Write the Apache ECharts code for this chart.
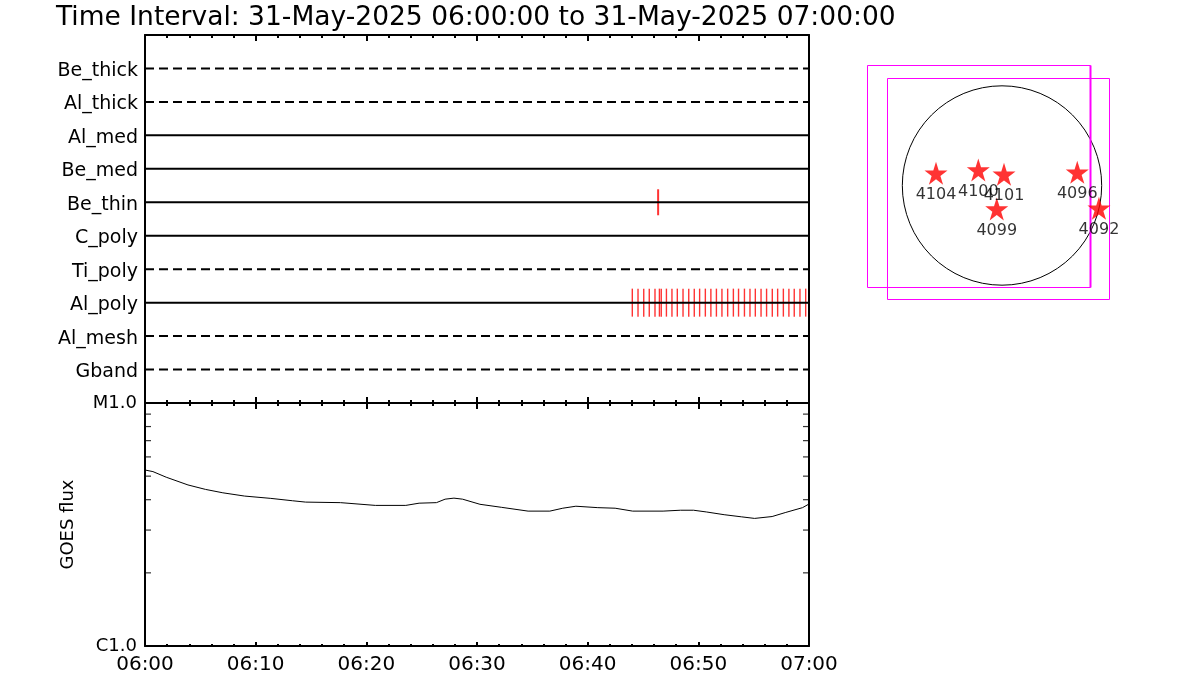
<!DOCTYPE html>
<html><head><meta charset="utf-8">
<script src="https://cdn.jsdelivr.net/npm/echarts@6/dist/echarts.min.js"></script>
<style>html,body{margin:0;padding:0;background:#fff}#c{width:1200px;height:700px}</style>
</head><body><div id="c"></div>
<script>
// ---------------- data ----------------
const titleText = 'Time Interval: 31-May-2025 06:00:00 to 31-May-2025 07:00:00';
const filters = ['Be_thick','Al_thick','Al_med','Be_med','Be_thin','C_poly','Ti_poly','Al_poly','Al_mesh','Gband'];
const timeTickLabels = ['06:00','06:10','06:20','06:30','06:40','06:50','07:00'];
const goesTickLabels = ['C1.0','M1.0'];
const goesMinorTickValues = [2e-6,3e-6,4e-6,5e-6,6e-6,7e-6,8e-6,9e-6];
const goesTimes = ['06:00:00','06:00:43','06:01:55','06:03:53','06:05:28','06:07:02','06:09:00','06:11:22','06:13:20','06:14:31',
  '06:17:40','06:20:49','06:23:34','06:24:46','06:26:20','06:27:07','06:27:55','06:28:42','06:30:16','06:32:14',
  '06:34:37','06:36:35','06:37:45','06:38:56','06:40:55','06:42:29','06:44:04','06:46:49','06:48:23','06:49:34',
  '06:50:45','06:52:20','06:53:55','06:55:05','06:56:40','06:57:51','06:59:25','07:00:00'];
const goesFlux = [5.30e-6,5.22e-6,4.95e-6,4.60e-6,4.41e-6,4.27e-6,4.14e-6,4.05e-6,3.96e-6,3.91e-6,
  3.89e-6,3.79e-6,3.79e-6,3.87e-6,3.89e-6,4.02e-6,4.06e-6,4.02e-6,3.83e-6,3.72e-6,
  3.59e-6,3.59e-6,3.69e-6,3.76e-6,3.71e-6,3.69e-6,3.59e-6,3.59e-6,3.62e-6,3.62e-6,
  3.56e-6,3.47e-6,3.40e-6,3.35e-6,3.41e-6,3.54e-6,3.71e-6,3.84e-6];
const beThinTimes = ['06:46:22'];
const alPolyTimes = ['06:44:02','06:44:33','06:45:04','06:45:34','06:46:05','06:46:29','06:46:39','06:47:07','06:47:37','06:48:06',
  '06:48:37','06:49:08','06:49:38','06:50:07','06:50:38','06:51:08','06:51:38','06:52:08','06:52:39','06:53:10',
  '06:53:38','06:54:10','06:54:40','06:55:09','06:55:40','06:56:10','06:56:41','06:57:10','06:57:41','06:58:11',
  '06:58:40','06:59:11','06:59:42'];
const arNumbers = ['4104','4100','4101','4099','4096','4092'];
const arX = [-627,-225,19,-50,715,921];      // arcsec
const arY = [116,147,106,-223,125,-217];     // arcsec
const solarRadius = 947;                      // arcsec
const fovBoxes = [[-1280,-964,836,1142],[-1090,-1081,1020,1024]]; // xmin,ymin,xmax,ymax arcsec

// ---------------- helpers ----------------
const dashedFilters = ['Be_thick','Al_thick','Ti_poly','Al_mesh','Gband'];
function toMin(t){const p=t.split(':').map(Number);return (p[0]-6)*60+p[1]+(p[2]||0)/60;}
function filterY(name){return filters.length-filters.indexOf(name);}
const FONT = 'DejaVu Sans';
const starPath = 'path://M50,0 L61.2,34.5 L97.6,34.5 L68.2,55.9 L79.4,90.5 L50,69.1 L20.6,90.5 L31.8,55.9 L2.4,34.5 L38.8,34.5 Z';

const axisLine2 = {show:true, onZero:false, lineStyle:{color:'#000', width:2}};
function timeAxis(gridIndex, position, major, minor, showLabel){
  return {type:'value', gridIndex, position, min:0, max:60, interval:10,
    axisLine:axisLine2,
    axisTick:{show:true, inside:true, length:major, lineStyle:{color:'#000', width:2}},
    minorTick:{show:true, splitNumber:5, length:minor, lineStyle:{color:'#000', width:2}},
    splitLine:{show:false}, minorSplitLine:{show:false},
    axisLabel:{show:showLabel, margin:9, fontFamily:FONT, fontSize:20, color:'#000',
      formatter:v=>timeTickLabels[Math.round(v/10)]}
  };
}

const series = [];
// filter rows
filters.forEach(name=>{
  const y = filterY(name);
  series.push({type:'line', xAxisIndex:0, yAxisIndex:0, silent:true, symbol:'none',
    data:[[0,y],[60,y]],
    lineStyle:{color:'#000', width:2, type: dashedFilters.includes(name)?[9,5]:'solid'}});
});
// exposure marks
series.push({type:'scatter', xAxisIndex:0, yAxisIndex:0, silent:true, symbol:'rect', symbolSize:[2,26],
  itemStyle:{color:'#ff0000'}, data:beThinTimes.map(t=>[toMin(t), filterY('Be_thin')])});
series.push({type:'scatter', xAxisIndex:0, yAxisIndex:0, silent:true, symbol:'rect', symbolSize:[1.4,28],
  itemStyle:{color:'#ff0000'}, data:alPolyTimes.map(t=>[toMin(t), filterY('Al_poly')])});
// GOES
series.push({type:'line', xAxisIndex:3, yAxisIndex:2, silent:true, symbol:'none',
  lineStyle:{color:'#000', width:1}, data:goesTimes.map((t,i)=>[toMin(t), goesFlux[i]])});
// log minor ticks on left and right
series.push({type:'scatter', xAxisIndex:3, yAxisIndex:2, silent:true, clip:false, symbol:'rect', symbolSize:[6,1.2],
  symbolOffset:[3,0], itemStyle:{color:'#000'}, data:goesMinorTickValues.map(v=>[0,v])});
series.push({type:'scatter', xAxisIndex:3, yAxisIndex:2, silent:true, clip:false, symbol:'rect', symbolSize:[6,1.2],
  symbolOffset:[-3,0], itemStyle:{color:'#000'}, data:goesMinorTickValues.map(v=>[60,v])});
// solar disk
series.push({type:'custom', xAxisIndex:4, yAxisIndex:4, silent:true, clip:false,
  data:[[0,0,solarRadius]],
  renderItem:(params, api)=>{
    const c = api.coord([api.value(0), api.value(1)]);
    const r = api.size([api.value(2), 0])[0];
    return {type:'circle', shape:{cx:c[0], cy:c[1], r}, style:{fill:'none', stroke:'#000', lineWidth:1}};
  }});
// FOV boxes
series.push({type:'custom', xAxisIndex:4, yAxisIndex:4, silent:true, clip:false,
  data:fovBoxes,
  renderItem:(params, api)=>{
    const p0 = api.coord([api.value(0), api.value(3)]);
    const p1 = api.coord([api.value(2), api.value(1)]);
    const x0 = Math.round(p0[0])+0.5, y0 = Math.round(p0[1])+0.5;
    const x1 = Math.round(p1[0])+0.5, y1 = Math.round(p1[1])+0.5;
    const children = [{type:'rect', shape:{x:x0, y:y0, width:x1-x0, height:y1-y0},
      style:{fill:'none', stroke:'#ff00ff', lineWidth:1}}];
    if (params.dataIndex === 0) children.push({type:'line', shape:{x1:x1, y1:y0, x2:x1, y2:y1},
      style:{stroke:'#ff00ff', lineWidth:2}});
    return {type:'group', children};
  }});
// active regions
series.push({type:'scatter', xAxisIndex:4, yAxisIndex:4, silent:true, clip:false, symbol:starPath, symbolSize:23,
  itemStyle:{color:'#ff0000'},
  label:{show:true, position:'bottom', distance:2, color:'#000', fontFamily:FONT, fontSize:16,
    formatter:p=>arNumbers[p.dataIndex]},
  data:arX.map((x,i)=>[x, arY[i]])});

const diskHalf = 1400, arcPerPx = 9.5;
const diskCx = 1002, diskCy = 185.5;

const option = {
  animation:false,
  backgroundColor:'#fff',
  title:{text:titleText, left:56, top:5, padding:0,
    textStyle:{fontFamily:FONT, fontSize:26.5, fontWeight:'normal', color:'#000'}},
  grid:[
    {left:145, top:35, width:664, height:368},
    {left:145, top:403, width:664, height:243},
    {left:diskCx-diskHalf/arcPerPx, top:diskCy-diskHalf/arcPerPx, width:2*diskHalf/arcPerPx, height:2*diskHalf/arcPerPx}
  ],
  xAxis:[
    timeAxis(0,'top',6,3,false),
    timeAxis(0,'bottom',6,3,false),
    timeAxis(1,'top',6,3,false),
    timeAxis(1,'bottom',4,2,true),
    {type:'value', gridIndex:2, min:-diskHalf, max:diskHalf, show:false}
  ],
  yAxis:[
    {type:'value', gridIndex:0, position:'left', min:0, max:filters.length+1, interval:1,
      axisLine:axisLine2, axisTick:{show:false}, splitLine:{show:false},
      axisLabel:{show:true, margin:7, fontFamily:FONT, fontSize:19, color:'#000',
        rich:{f:{fontFamily:FONT, fontSize:19, color:'#000', padding:[5,0,0,0]}},
        formatter:v=>(v>=1 && v<=filters.length)?'{f|'+filters[filters.length-v]+'}':''}},
    {type:'value', gridIndex:0, position:'right', min:0, max:filters.length+1, interval:1,
      axisLine:axisLine2, axisTick:{show:false}, splitLine:{show:false}, axisLabel:{show:false}},
    {type:'log', gridIndex:1, position:'left', min:1e-6, max:1e-5, logBase:10,
      axisLine:axisLine2, axisTick:{show:false}, splitLine:{show:false}, minorTick:{show:false},
      axisLabel:{show:true, margin:8, fontFamily:FONT, fontSize:18, color:'#000',
        formatter:v=>v>3e-6?goesTickLabels[1]:goesTickLabels[0]},
      name:'GOES flux', nameLocation:'middle', nameGap:68,
      nameTextStyle:{fontFamily:FONT, fontSize:18, color:'#000'}},
    {type:'log', gridIndex:1, position:'right', min:1e-6, max:1e-5, logBase:10,
      axisLine:axisLine2, axisTick:{show:false}, splitLine:{show:false}, axisLabel:{show:false}},
    {type:'value', gridIndex:2, min:-diskHalf, max:diskHalf, show:false}
  ],
  series
};
const chart = echarts.init(document.getElementById('c'), null, {renderer:'canvas'});
chart.setOption(option);
</script>
</body></html>
